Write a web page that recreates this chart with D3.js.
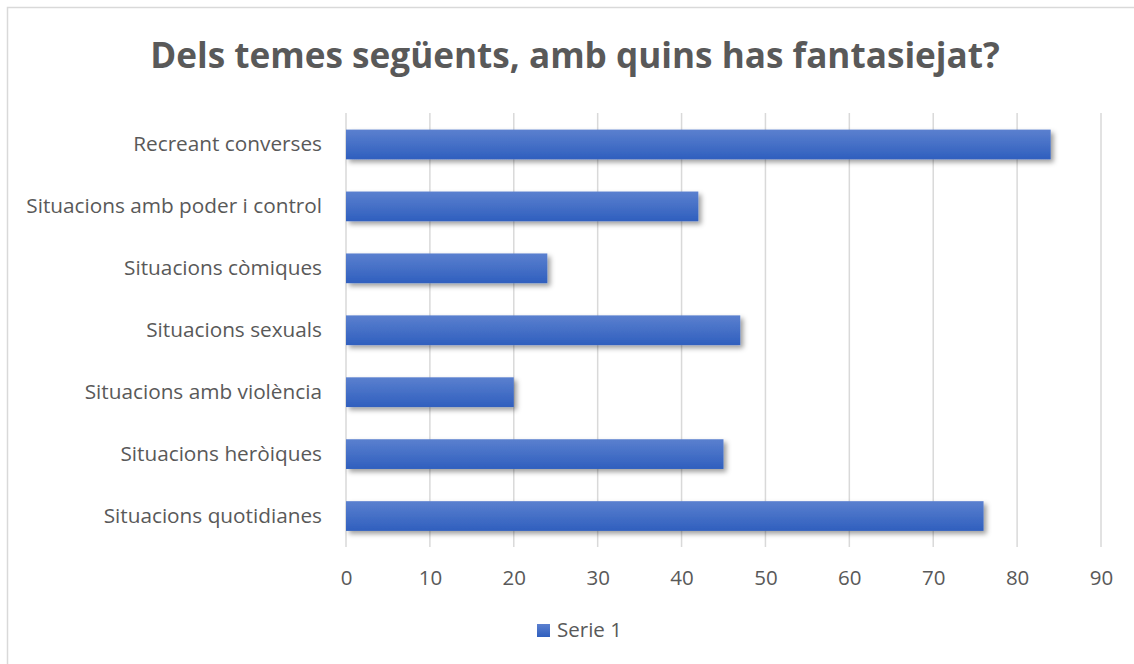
<!DOCTYPE html>
<html>
<head>
<meta charset="utf-8">
<script src="https://cdn.jsdelivr.net/npm/d3@7"></script>
<style>
  html, body { margin: 0; padding: 0; background: #fff; }
  svg { display: block; }
  text { font-family: "Open Sans", "Lato", sans-serif; fill: #595959; }
</style>
</head>
<body>
<script>
const title = "Dels temes següents, amb quins has fantasiejat?";
const categories = [
  "Recreant converses",
  "Situacions amb poder i control",
  "Situacions còmiques",
  "Situacions sexuals",
  "Situacions amb violència",
  "Situacions heròiques",
  "Situacions quotidianes"
];
const values = [84, 42, 24, 47, 20, 45, 76];
const tickValues = [0, 10, 20, 30, 40, 50, 60, 70, 80, 90];
const seriesName = "Serie 1";

const W = 1134, H = 664;
const svg = d3.select("body").append("svg").attr("width", W).attr("height", H);

const defs = svg.append("defs");
const grad = defs.append("linearGradient").attr("id", "barGrad")
  .attr("x1", 0).attr("y1", 0).attr("x2", 0).attr("y2", 1);
grad.append("stop").attr("offset", "0%").attr("stop-color", "#5b80cf");
grad.append("stop").attr("offset", "100%").attr("stop-color", "#2f5fbe");
const filt = defs.append("filter").attr("id", "shadow")
  .attr("x", "-10%").attr("y", "-30%").attr("width", "130%").attr("height", "180%");
filt.append("feDropShadow").attr("dx", 3).attr("dy", 3).attr("stdDeviation", 2.5)
  .attr("flood-color", "#000").attr("flood-opacity", 0.38);

// chart border
svg.append("rect").attr("x", 7.5).attr("y", 7.5).attr("width", W + 20).attr("height", H + 20)
  .attr("fill", "#fff").attr("stroke", "#d9d9d9").attr("stroke-width", 1.5);

const x = d3.scaleLinear().domain([0, 90]).range([346, 1101]);
const y = d3.scaleBand().domain(categories).range([113.5, 547]).paddingInner(0.52).paddingOuter(0.26);

function fitText(sel, target) {
  const w = sel.node().getComputedTextLength();
  const fs = parseFloat(sel.attr("font-size"));
  sel.attr("font-size", fs * target / w);
  return fs * target / w;
}

// title
const t = svg.append("text").attr("x", 575).attr("y", 68).attr("text-anchor", "middle")
  .attr("font-size", 36).attr("font-weight", "bold").text(title);
fitText(t, 850);

// gridlines
svg.append("g").selectAll("line").data(tickValues).join("line")
  .attr("x1", d => x(d)).attr("x2", d => x(d))
  .attr("y1", 113).attr("y2", 547)
  .attr("stroke", "#d9d9d9").attr("stroke-width", 1.5);

// x axis (labels only)
const xAxis = svg.append("g").attr("transform", "translate(0,585)")
  .call(d3.axisBottom(x).tickValues(tickValues).tickSize(0).tickPadding(0));
xAxis.select(".domain").remove();
xAxis.selectAll("text").attr("font-size", 20.5).attr("fill", "#595959")
  .attr("font-family", "'Open Sans', sans-serif").attr("y", 0).attr("dy", 0);

// bars
svg.append("g").selectAll("rect").data(categories).join("rect")
  .attr("x", x(0))
  .attr("y", d => y(d))
  .attr("width", (d, i) => x(values[i]) - x(0))
  .attr("height", y.bandwidth())
  .attr("fill", "url(#barGrad)")
  .attr("filter", "url(#shadow)");

// y axis labels
const yAxis = svg.append("g").attr("transform", "translate(322,0)")
  .call(d3.axisLeft(y).tickSize(0).tickPadding(0));
yAxis.select(".domain").remove();
const labs = yAxis.selectAll("text").attr("font-size", 20).attr("fill", "#595959")
  .attr("font-family", "'Open Sans', sans-serif");
const w0 = labs.filter(d => d === "Recreant converses").node().getComputedTextLength();
labs.attr("font-size", 20 * 189 / w0);

// legend
const lg = svg.append("g");
lg.append("rect").attr("x", 537).attr("y", 624).attr("width", 13).attr("height", 13)
  .attr("fill", "url(#barGrad)");
const lt = lg.append("text").attr("x", 557).attr("y", 637).attr("font-size", 19).text(seriesName);
fitText(lt, 65);
</script>
</body>
</html>
